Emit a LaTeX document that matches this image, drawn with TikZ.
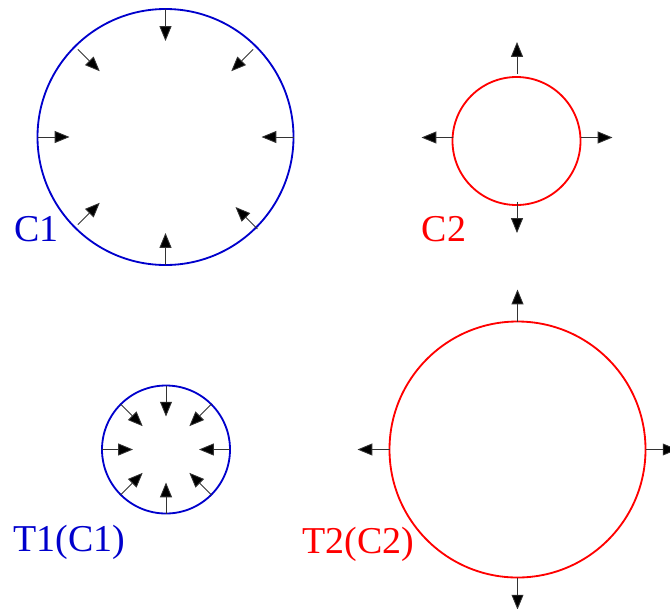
\documentclass[tikz,border=0pt]{standalone}
\usepackage{fontspec}
\setmainfont{Liberation Serif}
\usetikzlibrary{arrows.meta,calc}
\definecolor{colA}{HTML}{0000CC}
\definecolor{colB}{HTML}{FF0000}
\tikzset{
  ring/.style={line width=1.3pt},
  vec/.style={-{Triangle[length=10.5pt,width=8.5pt,fill=black]}, line width=0.6pt, black!80},
  lbl/.style={anchor=base west, inner sep=0pt, font=\fontsize{27}{31}\selectfont},
}
\begin{document}
\begin{tikzpicture}[x=0.25mm, y=-0.25mm]
  \clip (0,0) rectangle (670,608);
  \coordinate (C1) at (165.5,137);
  \coordinate (C2) at (516.5,141);
  \coordinate (C2v) at (517,137.5);
  \coordinate (T1) at (166,449.5);
  \coordinate (T2) at (517.5,449.5);
  % C1, pointing in
  \draw[ring, colA] (C1) circle[radius=128];
  \foreach \a/\ra/\rb in {0/128/96, 90/128/96, 180/128/96, 270/128/96,
                          45/130/99, 135/124/93, 225/124/93, 315/124/93}
    \draw[vec] ($(C1)+(\a:\ra)$) -- ($(C1)+(\a:\rb)$);
  \node[lbl, colA] (labC1) at (14,241.7) {C1};
  % C2, pointing out
  \draw[ring, colB] (C2) circle[radius=64];
  \foreach \a in {0,90,180,270}
    \draw[vec] ($(C2v)+(\a:64)$) -- ($(C2v)+(\a:95.5)$);
  \node[lbl, colB] (labC2) at (421.5,241.7) {C2};
  % T1(C1)
  \draw[ring, colA] (T1) circle[radius=64];
  \foreach \a in {0,45,...,315}
    \draw[vec] ($(T1)+(\a:64)$) -- ($(T1)+(\a:33)$);
  \node[lbl, colA] (labT1) at (13,551) {T1(C1)};
  % T2(C2)
  \draw[ring, colB] (T2) circle[radius=128];
  \foreach \a in {0,90,180,270}
    \draw[vec] ($(T2)+(\a:128)$) -- ($(T2)+(\a:160)$);
  \node[lbl, colB] (labT2) at (302,553.5) {T2(C2)};
\end{tikzpicture}
\end{document}
